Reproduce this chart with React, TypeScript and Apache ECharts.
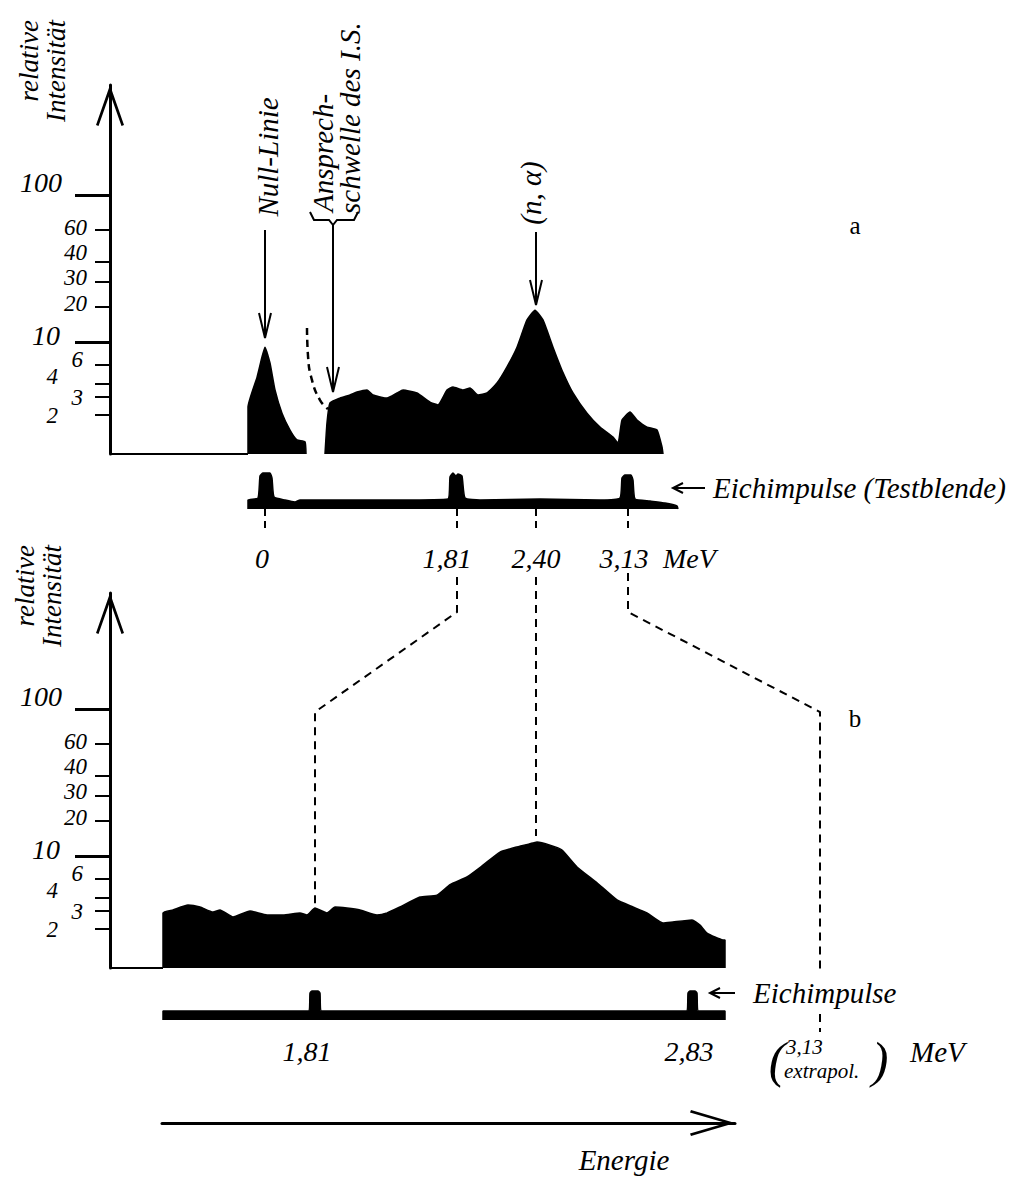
import React, { useEffect, useRef } from 'react';
import * as echarts from 'echarts';

// ---- nonlinear intensity scale of the figure (intensity -> axis units) ----
const SCALE_INTENSITY = [0, 2, 3, 4, 6, 10, 20, 30, 40, 60, 100];
const SCALE_UNITS = [0, 39, 57, 70, 89, 112, 147, 172, 192, 224, 259];
const SHORT_TICKS = [2, 3, 4, 6, 20, 30, 40, 60];
const LONG_TICKS = [10, 100];

// ---- panel a : [channel, relative intensity] ----
const A_NULL_PEAK = [[27.6, 0], [27.6, 2.44], [29.4, 4.7], [30.4, 7.4], [31, 9.1], [32, 6.35], [33, 3.54], [34.4, 2.1], [36, 1.23], [37.4, 0.72], [39, 0.62], [39.2, 0]];
const A_SPECTRUM = [[43, 0], [43.4, 1.6], [44, 2.67], [46, 2.94], [48, 3.15], [49.4, 3.38], [51.4, 3.54], [52.6, 3.15], [55.4, 2.94], [57.4, 3.31], [58.6, 3.54], [61.4, 3.31], [64, 2.72], [65.6, 2.56], [67.4, 3.54], [68.6, 3.77], [70.6, 3.54], [72, 3.69], [73.6, 3.15], [75.4, 3.31], [77.4, 4.1], [79.4, 5.8], [81.4, 9.1], [83.4, 16.3], [85, 19.1], [86.6, 16.3], [88.6, 9.1], [90.6, 5.2], [92.6, 3.31], [95.4, 2.1], [98, 1.38], [100.6, 0.87], [101.6, 0.56], [102.4, 1.74], [104, 2.17], [105.4, 1.74], [107.4, 1.38], [109.4, 1.23], [110.4, 0.36], [110.6, 0]];
const A_THRESHOLD = [[39.4, 14], [39.6, 7.6], [40.4, 4.4], [42, 2.83], [43.6, 2.33]];
const A_BASELINE = [[0, 0], [27.6, 0]];
// calibration pulses strip a : [channel, pulse height]
const A_PULSES = [[27.6, 0], [27.6, 9], [29.6, 11], [30, 33], [30.6, 36], [32, 36], [32.4, 31], [32.8, 12], [35, 9], [37, 7], [38, 9], [42, 9], [58, 9], [67.6, 10], [68, 32], [68.6, 36], [69.2, 33], [69.6, 35], [70.4, 33], [71, 11], [74, 9], [86, 10], [98, 9], [102, 11], [102.4, 31], [103, 34], [104.2, 34], [104.6, 29], [105, 10], [108, 8], [111, 6], [113.4, 3], [113.6, 0]];
const A_ENERGY_CH = [31, 69.4, 85.2, 103.6];
const A_ENERGY_LABELS = ['0', '1,81', '2,40', '3,13'];

// ---- panel b ----
const B_SPECTRUM = [[10.6, 0], [10.6, 2.89], [12.6, 3.08], [15.6, 3.46], [18, 3.31], [20.6, 2.94], [22, 3.08], [24.6, 2.67], [28, 3.0], [31.4, 2.78], [34.6, 2.78], [38, 2.89], [39.4, 2.78], [41, 3.23], [43.4, 2.89], [45, 3.31], [47.4, 3.23], [50, 3.08], [53.4, 2.78], [55.4, 2.89], [58, 3.31], [62, 4.1], [65.4, 4.3], [68, 5.4], [71.4, 6.35], [74.6, 8.4], [78, 11.1], [81.4, 12.6], [84.6, 13.7], [85.4, 14.0], [88, 13.1], [90.4, 11.7], [93.4, 8.1], [97.4, 5.6], [101.4, 3.85], [104.6, 3.31], [107.4, 2.89], [110.6, 2.33], [112.6, 2.39], [116.4, 2.5], [118, 2.22], [119.4, 1.79], [122.6, 1.44], [123, 1.44], [123, 0]];
const B_BASELINE = [[0, 0], [10.6, 0]];
const B_PULSES = [[10.6, 0], [10.6, 9], [39.8, 9], [40, 27], [40.4, 29], [41.6, 29], [42, 27], [42.2, 9], [115.4, 9], [115.6, 27], [116, 29], [117, 29], [117.4, 27], [117.6, 9], [123, 9], [123, 0]];
const B_ENERGY_CH = [41, 116.4];
const B_ENERGY_LABELS = ['1,81', '2,83'];
const B_EXTRAPOL_CH = 142;

const FONT = '"Liberation Serif", "DejaVu Serif", serif';
const ARROW_Y = 'path://M0,40 L14,0 L28,40 L25.5,41 L14,8.5 L2.5,41 Z';
const ARROW_X = 'path://M0,44 L13,0 L26,44 L23.5,45 L13,9 L2.5,45 Z';

function toUnits(v: number): number {
  for (let i = 1; i < SCALE_INTENSITY.length; i++) {
    if (v <= SCALE_INTENSITY[i]) {
      const a = SCALE_INTENSITY[i - 1], b = SCALE_INTENSITY[i];
      return SCALE_UNITS[i - 1] + ((v - a) / (b - a)) * (SCALE_UNITS[i] - SCALE_UNITS[i - 1]);
    }
  }
  const n = SCALE_INTENSITY.length - 1;
  return SCALE_UNITS[n] + ((v - SCALE_INTENSITY[n]) / (SCALE_INTENSITY[n] - SCALE_INTENSITY[n - 1])) * (SCALE_UNITS[n] - SCALE_UNITS[n - 1]);
}
function nearestIdx(arr: number[], v: number): number {
  let best = 0;
  arr.forEach((a, i) => { if (Math.abs(a - v) < Math.abs(arr[best] - v)) best = i; });
  return best;
}
const conv = (d: number[][]) => d.map(([c, v]) => [c, toUnits(v)]);

// label offsets [padRight, shiftUp]
const TICK_LABEL_OFFSET: Record<string, [number, number]> = {
  '100': [0, 13], '60': [0, 3], '40': [0, 10], '30': [0, 5], '20': [0, 4],
  '10': [2, 7], '6': [4, 6], '4': [29, 8], '3': [4, 0], '2': [29, 0],
};
const tickRich: Record<string, any> = {};
Object.keys(TICK_LABEL_OFFSET).forEach((k) => {
  const [pr, up] = TICK_LABEL_OFFSET[k];
  tickRich['k' + k] = {
    fontFamily: FONT, fontStyle: 'italic', fontSize: k === '100' || k === '10' ? 28 : 23,
    color: '#000', padding: [0, pr, 2 * up, 0],
  };
});
const tickFmt = (v: number) => {
  const t = String(SCALE_INTENSITY[nearestIdx(SCALE_UNITS, v)]);
  return `{k${t}|${t}}`;
};

function yAxesFor(gridIndex: number, max: number) {
  return [
    {
      type: 'value', gridIndex, min: 0, max, position: 'left', offset: 0,
      axisLine: { show: true, onZero: false, lineStyle: { color: '#000', width: 3 }, symbol: ['none', ARROW_Y], symbolSize: [28, 41], symbolOffset: [0, -20.5] },
      splitLine: { show: false },
      axisTick: { show: true, customValues: SHORT_TICKS.map(toUnits), length: 15, lineStyle: { color: '#000', width: 2 } },
      axisLabel: { show: true, customValues: SHORT_TICKS.map(toUnits), margin: 23, formatter: tickFmt, rich: tickRich },
    },
    {
      type: 'value', gridIndex, min: 0, max, position: 'left', offset: 0,
      axisLine: { show: false, onZero: false },
      splitLine: { show: false },
      axisTick: { show: true, customValues: LONG_TICKS.map(toUnits), length: 35, lineStyle: { color: '#000', width: 3 } },
      axisLabel: { show: true, customValues: LONG_TICKS.map(toUnits), margin: 48, formatter: tickFmt, rich: tickRich },
    },
  ];
}

const energyRich = (pads: number[]) => {
  const r: Record<string, any> = {};
  pads.forEach((p, i) => { r['e' + i] = { fontFamily: FONT, fontStyle: 'italic', fontSize: 28, color: '#000', padding: [0, p, 0, 0] }; });
  return r;
};

const hiddenX = (gridIndex: number, max: number) => ({
  type: 'value', gridIndex, min: 0, max,
  axisLine: { show: false }, axisTick: { show: false }, axisLabel: { show: false }, splitLine: { show: false },
});
const hiddenY = (gridIndex: number, max: number) => ({
  type: 'value', gridIndex, min: 0, max, show: false, splitLine: { show: false },
});

function buildOption(): any {
  const area = (name: string, data: number[][], xi: number, yi: number) => ({
    name, type: 'line', xAxisIndex: xi, yAxisIndex: yi, data, symbol: 'none', smooth: 0.15,
    lineStyle: { color: '#000', width: 1.5 }, areaStyle: { color: '#000', opacity: 1 }, z: 3,
  });
  return {
    animation: false,
    backgroundColor: '#fff',
    textStyle: { fontFamily: FONT },
    grid: [
      { left: 110, top: 85, width: 555, height: 369 },
      { left: 110, top: 469, width: 570, height: 40 },
      { left: 110, top: 593, width: 615, height: 375 },
      { left: 110, top: 980, width: 615, height: 40 },
      { left: 162, top: 1103, width: 573, height: 20 },
    ],
    xAxis: [
      hiddenX(0, 111),
      {
        type: 'value', gridIndex: 1, min: 0, max: 114,
        axisLine: { show: false }, splitLine: { show: false },
        axisTick: { show: true, customValues: A_ENERGY_CH, length: 20, lineStyle: { color: '#000', width: 2, type: [7, 5] } },
        axisLabel: {
          show: true, customValues: A_ENERGY_CH, margin: 35,
          formatter: (v: number) => { const i = nearestIdx(A_ENERGY_CH, v); return `{e${i}|${A_ENERGY_LABELS[i]}}`; },
          rich: energyRich([6, 20, 0, 8]),
        },
      },
      hiddenX(2, 123),
      {
        type: 'value', gridIndex: 3, min: 0, max: 123,
        axisLine: { show: false }, splitLine: { show: false }, axisTick: { show: false },
        axisLabel: {
          show: true, customValues: B_ENERGY_CH, margin: 17,
          formatter: (v: number) => { const i = nearestIdx(B_ENERGY_CH, v); return `{e${i}|${B_ENERGY_LABELS[i]}}`; },
          rich: energyRich([16, 6]),
        },
      },
      {
        type: 'value', gridIndex: 4, min: 0, max: 1,
        axisLine: { show: true, lineStyle: { color: '#000', width: 3 }, symbol: ['none', ARROW_X], symbolSize: [26, 45], symbolOffset: [0, -22.5] },
        axisTick: { show: false }, axisLabel: { show: false }, splitLine: { show: false },
      },
    ],
    yAxis: [
      ...yAxesFor(0, 369),
      hiddenY(1, 40),
      ...yAxesFor(2, 375),
      hiddenY(3, 40),
      hiddenY(4, 1),
    ],
    series: [
      area('Null-Linie', conv(A_NULL_PEAK), 0, 0),
      area('Spektrum a', conv(A_SPECTRUM), 0, 0),
      {
        name: 'Ansprechschwelle', type: 'line', xAxisIndex: 0, yAxisIndex: 0, data: conv(A_THRESHOLD),
        symbol: 'none', smooth: true, lineStyle: { color: '#000', width: 2.5, type: [7, 5] },
      },
      {
        name: 'Grundlinie a', type: 'line', xAxisIndex: 0, yAxisIndex: 0, data: A_BASELINE, clip: false,
        symbol: 'none', lineStyle: { color: '#000', width: 2 },
      },
      area('Eichimpulse a', A_PULSES, 1, 2),
      area('Spektrum b', conv(B_SPECTRUM), 2, 3),
      {
        name: 'Grundlinie b', type: 'line', xAxisIndex: 2, yAxisIndex: 3, data: B_BASELINE, clip: false,
        symbol: 'none', lineStyle: { color: '#000', width: 2 },
      },
      area('Eichimpulse b', B_PULSES, 3, 5),
    ],
  };
}

function buildGraphic(chart: any) {
  const px = (g: number, x: number, y = 0) => chart.convertToPixel({ gridIndex: g }, [x, y]) as number[];
  const txt = (text: string, x: number, y: number, o: any = {}) => ({
    type: 'text', x, y, rotation: o.rot || 0, z: 10,
    style: {
      text, fontFamily: FONT, fontStyle: o.roman ? 'normal' : 'italic', fontSize: o.size || 28, fill: '#000',
      textAlign: o.align || 'left', textVerticalAlign: o.valign || 'middle', lineHeight: o.lh,
    },
  });
  const line = (x1: number, y1: number, x2: number, y2: number, w = 2) => ({
    type: 'line', z: 10, shape: { x1, y1, x2, y2 }, style: { stroke: '#000', lineWidth: w },
  });
  const poly = (points: number[][], w = 2, dash?: number[]) => ({
    type: 'polyline', z: 10, shape: { points }, style: { stroke: '#000', lineWidth: w, fill: 'none', lineDash: dash },
  });
  const downArrow = (x: number, y1: number, y2: number) => [
    line(x, y1, x, y2, 2), poly([[x - 6, y2 - 25], [x, y2], [x + 6, y2 - 25]], 2),
  ];
  const leftArrow = (x1: number, x2: number, y: number) => [
    line(x1, y, x2, y, 2), poly([[x1 + 10, y - 5], [x1, y], [x1 + 10, y + 5]], 2),
  ];
  const R = Math.PI / 2;
  const nullX = px(0, A_ENERGY_CH[0])[0];
  const threshX = px(0, 44.6)[0];
  const naX = px(0, A_ENERGY_CH[2])[0];
  const a181 = px(1, A_ENERGY_CH[1])[0];
  const a240 = px(1, A_ENERGY_CH[2])[0];
  const a313 = px(1, A_ENERGY_CH[3])[0];
  const b181 = px(3, B_ENERGY_CH[0])[0];
  const b313 = px(3, B_EXTRAPOL_CH)[0];
  const dash = [8, 6];
  return [
    txt('relative\nIntensität', 42, 20, { rot: R, align: 'right', size: 27, lh: 27 }),
    txt('relative\nIntensität', 38, 545, { rot: R, align: 'right', size: 27, lh: 27 }),
    txt('Null-Linie', nullX + 3, 157, { rot: R, align: 'center', size: 29 }),
    ...downArrow(nullX, 230, 338),
    txt('Ansprech-', threshX - 10, 212, { rot: R, size: 29 }),
    txt('schwelle des I.S.', threshX + 17, 214, { rot: R, size: 29 }),
    poly([[310, 212], [314, 220], [329, 220], [threshX, 225], [337, 220], [354, 220], [358, 212]], 2),
    ...downArrow(threshX, 225, 392),
    txt('(n, α)', naX - 5, 193, { rot: R, align: 'center', size: 29 }),
    ...downArrow(naX, 232, 305),
    txt('a', 855, 225, { roman: true, size: 25, align: 'center' }),
    txt('b', 855, 718, { roman: true, size: 25, align: 'center' }),
    ...leftArrow(673, 705, 488),
    txt('Eichimpulse (Testblende)', 713, 488, { size: 29 }),
    txt('MeV', 663, 558, { size: 28 }),
    ...leftArrow(710, 735, 993),
    txt('Eichimpulse', 753, 993, { size: 29 }),
    poly([[a181, 577], [a181, 612], [b181, 712], [b181, 905]], 2, dash),
    poly([[a240, 577], [a240, 836]], 2, dash),
    poly([[a313, 573], [a313, 612], [b313, 712], [b313, 972]], 2, dash),
    poly([[b313, 1014], [b313, 1032]], 2, dash),
    txt('(', 777, 1060, { size: 50, align: 'center' }),
    txt('3,13', 786, 1047, { size: 21 }),
    txt('extrapol.', 784, 1071, { size: 21 }),
    txt(')', 880, 1060, { size: 50, align: 'center' }),
    txt('MeV', 910, 1052, { size: 29 }),
    txt('Energie', 624, 1160, { align: 'center', size: 29 }),
  ];
}

export default function App() {
  const ref = useRef<HTMLDivElement>(null);
  useEffect(() => {
    const chart = echarts.init(ref.current as HTMLDivElement, null, { renderer: 'svg' });
    chart.setOption(buildOption());
    chart.setOption({ graphic: buildGraphic(chart) });
    return () => chart.dispose();
  }, []);
  return (
    <div
      ref={ref}
      style={{ position: 'absolute', left: 0, top: 0, width: 1028, height: 1178, background: '#fff' }}
    />
  );
}
